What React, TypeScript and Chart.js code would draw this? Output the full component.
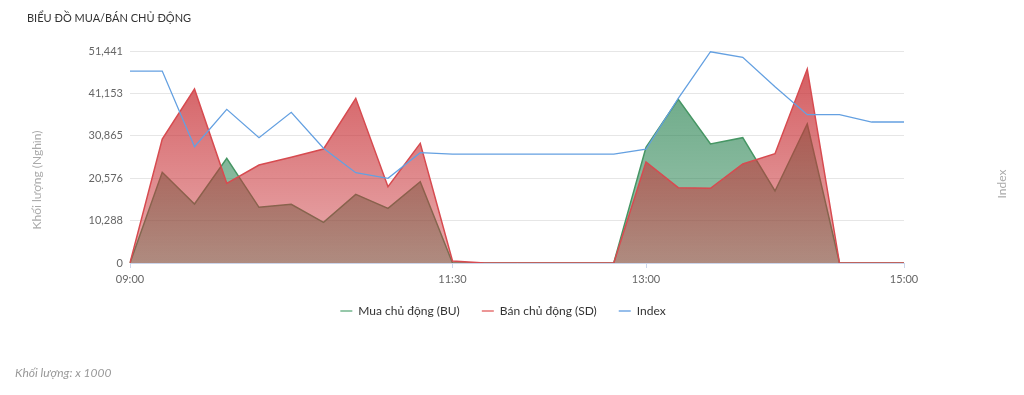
import React, { useEffect, useRef } from "react";
import { Chart, registerables } from "chart.js";

Chart.register(...registerables);

const FONT = "Lato, 'Noto Sans', sans-serif";

const times = [
  "09:00", "09:15", "09:30", "09:45", "10:00", "10:15", "10:30", "10:45", "11:00", "11:15", "11:30",
  "11:45", "12:00", "12:15", "12:30", "12:45", "13:00", "13:15", "13:30", "13:45", "14:00", "14:15",
  "14:30", "14:45", "15:00",
];
const xTickLabels = ["09:00", "11:30", "13:00", "15:00"];

const buyValues = [
  0, 22000, 14316, 25400, 13509, 14235, 9870, 16660, 13264, 19735, 0,
  0, 0, 0, 0, 0, 28067, 39712, 28875, 30409, 17471, 33728,
  0, 0, 0,
];
const sellValues = [
  0, 30089, 42221, 19331, 23780, 25640, 27662, 39960, 18519, 29040, 480,
  0, 0, 0, 0, 0, 24508, 18279, 18117, 24022, 26527, 47074,
  0, 0, 0,
];
const indexValues = [
  1198.11, 1198.11, 1190.97, 1194.5, 1191.82, 1194.22, 1190.82, 1188.52, 1187.99, 1190.41, 1190.28,
  1190.28, 1190.28, 1190.28, 1190.28, 1190.28, 1190.73, 1195.54, 1199.93, 1199.41, 1196.63, 1193.99,
  1193.99, 1193.3, 1193.3,
];

const yTickValues = [0, 10288.2, 20576.4, 30864.6, 41152.8, 51441];
const yTickLabels = ["0", "10,288", "20,576", "30,865", "41,153", "51,441"];

const seriesNames = ["Mua chủ động (BU)", "Bán chủ động (SD)", "Index"];
const yTitle = "Khối lượng (Nghìn)";
const y1Title = "Index";
const chartTitle = "BIỂU ĐỒ MUA/BÁN CHỦ ĐỘNG";
const footNote = "Khối lượng: x 1000";

function gradient(chart: any, rgb: string, aTop: number, aBottom: number) {
  const area = chart.chartArea;
  if (!area) return `rgba(${rgb},${aBottom})`;
  const g = chart.ctx.createLinearGradient(0, area.top, 0, area.bottom);
  g.addColorStop(0, `rgba(${rgb},${aTop})`);
  g.addColorStop(1, `rgba(${rgb},${aBottom})`);
  return g;
}

const axisTitles = {
  id: "axisTitles",
  beforeDraw(chart: any) {
    const lg = chart.legend;
    if (lg) {
      const w = lg.right - lg.left;
      lg.left = 65;
      lg.right = 65 + w;
    }
  },
  afterDraw(chart: any) {
    const c = chart.ctx;
    c.save();
    c.fillStyle = "#aaaaaa";
    c.font = `12px ${FONT}`;
    c.textAlign = "center";
    c.textBaseline = "middle";
    c.translate(37, 180);
    c.rotate(-Math.PI / 2);
    c.fillText(yTitle, 0, 0);
    c.restore();
    c.save();
    c.fillStyle = "#aaaaaa";
    c.font = `12px ${FONT}`;
    c.textAlign = "center";
    c.textBaseline = "middle";
    c.translate(1002, 184);
    c.rotate(-Math.PI / 2);
    c.fillText(y1Title, 0, 0);
    c.restore();
  },
};

export default function App() {
  const ref = useRef<HTMLCanvasElement>(null);
  useEffect(() => {
    if (!ref.current) return;
    const legendColors = ["rgb(150,200,170)", "rgb(236,150,150)", "rgb(150,190,235)"];
    const chart = new Chart(ref.current, {
      type: "line",
      data: {
        labels: times,
        datasets: [
          {
            label: seriesNames[0],
            data: buyValues,
            yAxisID: "y",
            borderColor: "rgb(70,150,100)",
            borderWidth: 1.5,
            pointRadius: 0,
            fill: "origin",
            backgroundColor: (ctx: any) => gradient(ctx.chart, "40,130,80", 0.72, 0.45),
            order: 2,
          },
          {
            label: seriesNames[1],
            data: sellValues,
            yAxisID: "y",
            borderColor: "rgb(215,75,80)",
            borderWidth: 1.5,
            pointRadius: 0,
            fill: "origin",
            backgroundColor: (ctx: any) => gradient(ctx.chart, "200,50,55", 0.82, 0.4),
            order: 1,
          },
          {
            label: seriesNames[2],
            data: indexValues,
            yAxisID: "y1",
            borderColor: "rgb(100,160,225)",
            borderWidth: 1.3,
            pointRadius: 0,
            fill: false,
            order: 0,
          },
        ],
      },
      options: {
        animation: false,
        responsive: false,
        maintainAspectRatio: false,
        layout: { padding: { left: 28, right: 120, top: 51, bottom: 68 } },
        plugins: {
          tooltip: { enabled: false },
          legend: {
            position: "bottom",
            labels: {
              usePointStyle: true,
              pointStyle: "line",
              pointStyleWidth: 12,
              boxHeight: 12,
              padding: 22,
              color: "#333333",
              font: { family: FONT, size: 12 },
              sort: (a: any, b: any) => a.datasetIndex - b.datasetIndex,
              generateLabels: (ch: any) => {
                const items = Chart.defaults.plugins.legend.labels.generateLabels(ch);
                return items.map((it: any) => ({
                  ...it,
                  strokeStyle: legendColors[it.datasetIndex],
                  fillStyle: legendColors[it.datasetIndex],
                  lineWidth: 2,
                  pointStyle: "line",
                }));
              },
            },
          },
        },
        scales: {
          x: {
            type: "category",
            grid: { display: true, drawOnChartArea: false, drawTicks: true, tickLength: 5, color: "#ccd6eb" },
            border: { display: true, color: "#ccd6eb" },
            ticks: { autoSkip: false, maxRotation: 0, color: "#666666", font: { family: FONT, size: 11 }, padding: 5 },
            afterBuildTicks: (s: any) => {
              s.ticks = s.ticks.filter((t: any) => xTickLabels.includes(times[t.value]));
            },
            afterFit: (s: any) => {
              s.height = 20;
            },
          },
          y: {
            position: "left",
            min: 0,
            max: 51441,
            afterBuildTicks: (s: any) => {
              s.ticks = yTickValues.map((v) => ({ value: v }));
            },
            ticks: {
              color: "#666666",
              font: { family: FONT, size: 11 },
              padding: 7,
              callback: (_v: any, i: number) => yTickLabels[i],
            },
            grid: { color: "#e6e6e6", drawTicks: false },
            border: { display: false },
            afterFit: (s: any) => {
              s.width = 102;
            },
          },
          y1: {
            display: false,
            position: "right",
            min: 1180,
            max: 1200,
          },
        },
      },
      plugins: [axisTitles],
    } as any);
    return () => chart.destroy();
  }, []);

  return (
    <div style={{ position: "absolute", left: 0, top: 0, width: 1024, height: 395, background: "#fff", overflow: "hidden" }}>
      <canvas ref={ref} width={1024} height={395} style={{ position: "absolute", left: 0, top: 0, width: 1024, height: 395 }} />
      <div style={{ position: "absolute", left: 27, top: 10, fontFamily: FONT, fontSize: 11, color: "#333", lineHeight: "16px" }}>
        {chartTitle}
      </div>
      <div style={{ position: "absolute", left: 15, top: 365, fontFamily: FONT, fontSize: 12, fontStyle: "italic", color: "#999", lineHeight: "16px" }}>
        {footNote}
      </div>
    </div>
  );
}
